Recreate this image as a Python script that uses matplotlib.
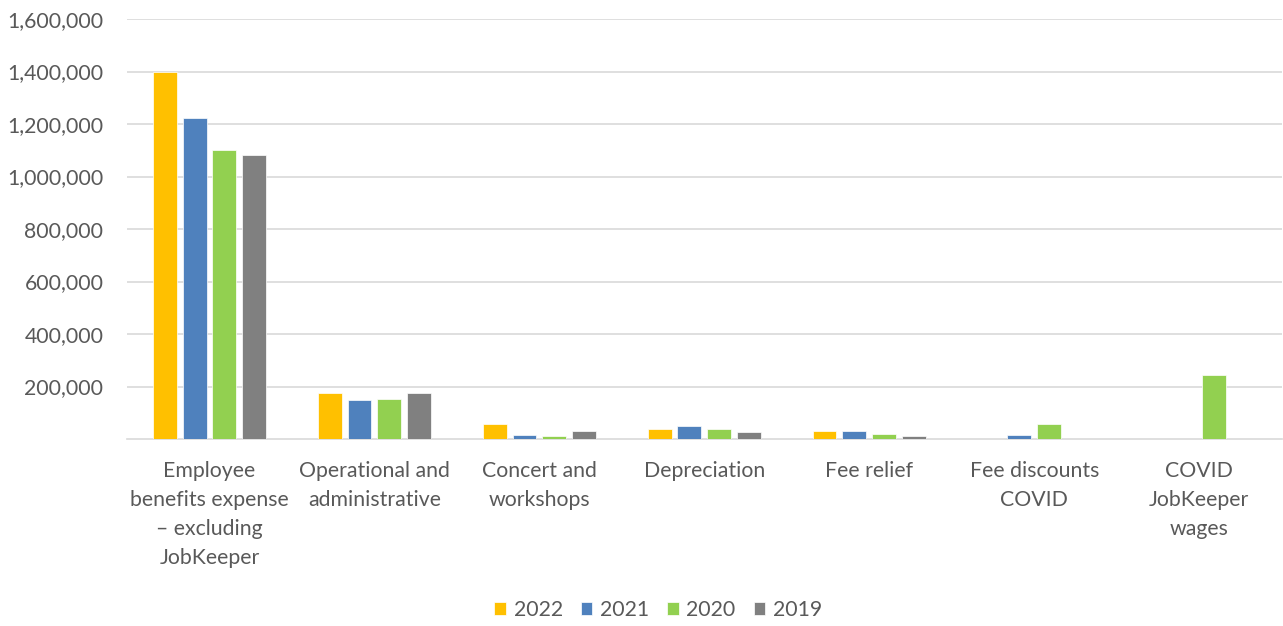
import matplotlib
matplotlib.use("Agg")
import matplotlib.pyplot as plt
import numpy as np
from matplotlib.ticker import FuncFormatter

categories = ["Employee\nbenefits expense\n– excluding\nJobKeeper",
              "Operational and\nadministrative",
              "Concert and\nworkshops",
              "Depreciation",
              "Fee relief",
              "Fee discounts\nCOVID",
              "COVID\nJobKeeper\nwages"]
years = ["2022", "2021", "2020", "2019"]
v2022 = [1400000, 175000, 56000, 39000, 29000, 0, 0]
v2021 = [1224000, 147000, 14000, 48000, 30000, 16000, 0]
v2020 = [1102000, 152000, 10000, 38000, 19000, 56000, 243000]
v2019 = [1083000, 174000, 30000, 27000, 13000, 0, 0]
colors = ["#FFC000", "#4F81BD", "#92D050", "#808080"]
yticks = [200000, 400000, 600000, 800000, 1000000, 1200000, 1400000, 1600000]

plt.rcParams['font.family'] = ['Lato', 'DejaVu Sans']

fig = plt.figure(figsize=(12.83, 6.26), dpi=100)
ax = fig.add_axes([0.099, 0.2987, 0.9, 0.6709])

x = np.arange(len(categories))
pitch = 0.181
width = 0.145
series = [v2022, v2021, v2020, v2019]
for i, (vals, c, lab) in enumerate(zip(series, colors, years)):
    ax.bar(x + (i - 1.5) * pitch, vals, width=width, color=c, label=lab,
           edgecolor="white", linewidth=0.5, zorder=3)

ax.set_xlim(-0.5, len(categories) - 0.5)
ax.set_ylim(0, 1600000)
ax.set_yticks(yticks)
ax.yaxis.set_major_formatter(FuncFormatter(lambda v, p: f"{int(v):,}"))
ax.grid(axis="y", color="#D9D9D9", linewidth=1.2, zorder=0)
ax.set_axisbelow(True)
for s in ["left", "right", "top"]:
    ax.spines[s].set_visible(False)
ax.spines["bottom"].set_color("#D9D9D9")
ax.spines["bottom"].set_linewidth(1.2)
ax.tick_params(axis="both", length=0, labelsize=15.3, labelcolor="#595959")
ax.tick_params(axis="y", pad=17)
ax.tick_params(axis="x", pad=16)
ax.set_xticks(x)
ax.set_xticklabels(categories, linespacing=1.55)

leg = fig.legend(loc="center", ncol=4, frameon=False, fontsize=15.3,
                 bbox_to_anchor=(0.513, 0.026), handlelength=0.55, handleheight=0.55,
                 handletextpad=0.35, columnspacing=0.85)
for t in leg.get_texts():
    t.set_color("#595959")

fig.savefig("out.png", dpi=100)
